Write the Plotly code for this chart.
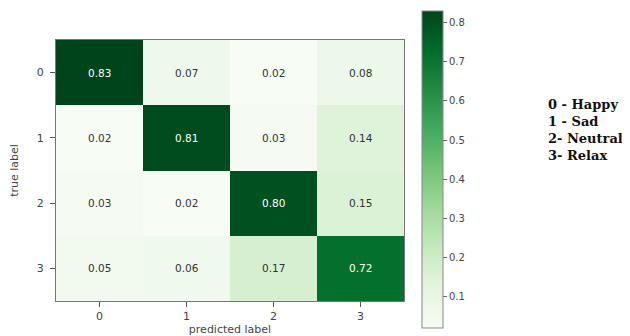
import plotly.graph_objects as go

classes = [0, 1, 2, 3]
tick_labels = ["0", "1", "2", "3"]
matrix = [
    [0.83, 0.07, 0.02, 0.08],
    [0.02, 0.81, 0.03, 0.14],
    [0.03, 0.02, 0.80, 0.15],
    [0.05, 0.06, 0.17, 0.72],
]
legend_lines = ["0 - Happy", "1 - Sad", "2- Neutral", "3- Relax"]
cbar_ticks = [0.1, 0.2, 0.3, 0.4, 0.5, 0.6, 0.7, 0.8]

greens = [
    [0.0, "#f7fcf5"], [0.125, "#e5f5e0"], [0.25, "#c7e9c0"], [0.375, "#a1d99b"],
    [0.5, "#74c476"], [0.625, "#41ab5d"], [0.75, "#238b45"], [0.875, "#006d2c"],
    [1.0, "#00441b"],
]

zmin, zmax = 0.02, 0.83

fig = go.Figure(go.Heatmap(
    z=matrix, x=classes, y=classes,
    colorscale=greens, zmin=zmin, zmax=zmax,
    xgap=0, ygap=0,
    colorbar=dict(
        thickness=21, lenmode="pixels", len=317,
        x=1.052, xanchor="left", xpad=0,
        y=0.504, yanchor="middle", ypad=0,
        outlinewidth=1, outlinecolor="#888",
        tickvals=cbar_ticks, ticktext=[f"{v:.1f}" for v in cbar_ticks],
        ticks="outside", ticklen=4, tickcolor="#666",
        tickfont=dict(family="DejaVu Sans", size=10, color="#444"),
    ),
))

thresh = (zmin + zmax) / 2
for i, row in enumerate(matrix):
    for j, v in enumerate(row):
        fig.add_annotation(
            x=classes[j], y=classes[i], text=f"{v:.2f}", showarrow=False,
            font=dict(family="DejaVu Sans", size=10.5,
                      color="white" if v > thresh else "#333"),
        )

fig.add_annotation(
    xref="paper", yref="paper", x=1.408, y=0.791, xanchor="left", yanchor="top",
    text="<br>".join(f"<b>{s}</b>" for s in legend_lines), showarrow=False, align="left",
    font=dict(family="DejaVu Serif", size=13, color="#111"),
)

fig.update_xaxes(
    tickvals=classes, ticktext=tick_labels, range=[-0.5, 3.5],
    ticks="outside", ticklen=5, tickcolor="#555",
    showline=True, linecolor="#777", linewidth=1, mirror=True,
    showgrid=False, zeroline=False, automargin=False,
    tickfont=dict(family="DejaVu Sans", size=11, color="#444"),
    title=dict(text="predicted label", standoff=2,
               font=dict(family="DejaVu Sans", size=11, color="#444")),
)
fig.update_yaxes(
    tickvals=classes, ticktext=tick_labels, range=[3.5, -0.5],
    ticks="outside", ticklen=5, tickcolor="#555", ticklabelstandoff=4,
    showline=True, linecolor="#777", linewidth=1, mirror=True,
    showgrid=False, zeroline=False, automargin=False,
    tickfont=dict(family="DejaVu Sans", size=11, color="#444"),
    title=dict(text="true label", standoff=16,
               font=dict(family="DejaVu Sans", size=11, color="#444")),
)

fig.update_layout(
    width=630, height=336,
    margin=dict(l=48, r=234, t=32, b=43, autoexpand=False),
    plot_bgcolor="white", paper_bgcolor="white",
    showlegend=False,
)

fig.write_html("out.html")
